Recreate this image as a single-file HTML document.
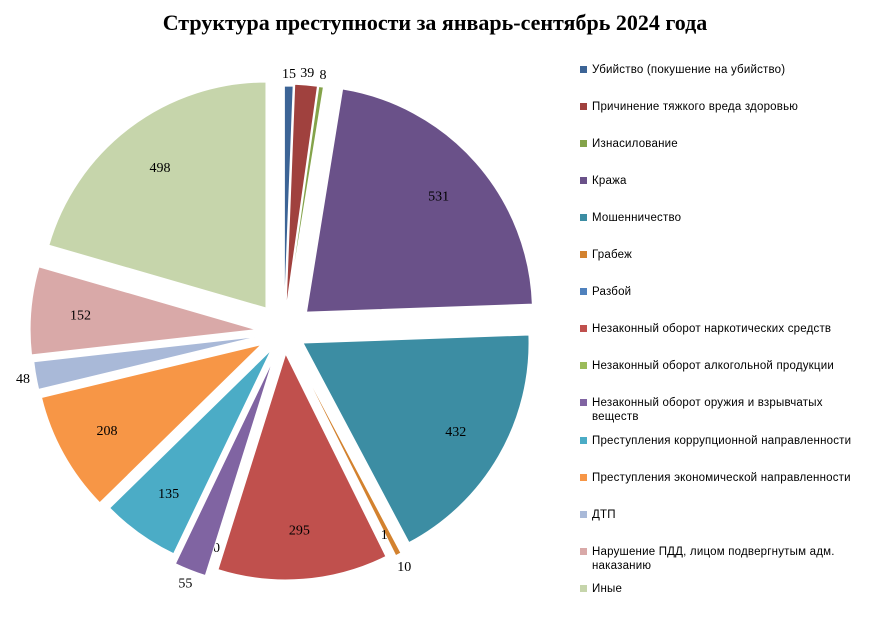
<!DOCTYPE html>
<html><head><meta charset="utf-8">
<style>
body{margin:0;background:#fff;width:870px;height:619px;overflow:hidden;font-family:"Liberation Sans",sans-serif;}
#title{position:absolute;left:0;width:870px;top:10px;text-align:center;font-family:"Liberation Serif",serif;font-weight:bold;font-size:22px;}
.leg{position:absolute;left:580px;font-size:11.5px;line-height:14px;width:272px;letter-spacing:0.2px;}
.leg i{position:absolute;left:0;top:3px;width:7px;height:7px;}
.leg span{display:block;margin-left:12px;}
</style></head><body>
<div id="title">Структура преступности за январь-сентябрь 2024 года</div>
<svg id="pie" width="570" height="619" style="position:absolute;left:0;top:0"></svg>
<div id="legend"></div>
<script>
const categories=["Убийство (покушение на убийство)","Причинение тяжкого вреда здоровью","Изнасилование","Кража","Мошенничество","Грабеж","Разбой","Незаконный оборот наркотических средств","Незаконный оборот алкогольной продукции","Незаконный оборот оружия и взрывчатых веществ","Преступления коррупционной направленности","Преступления экономической направленности","ДТП","Нарушение ПДД, лицом подвергнутым адм. наказанию","Иные"];
const values=[15,39,8,531,432,10,1,295,0,55,135,208,48,152,498];
const colors=["#3C6496","#A0413E","#84A34A","#6A5189","#3C8DA3","#D3822F","#4F81BD","#C0504D","#9BBB59","#8064A2","#4BACC6","#F79646","#A9B9D8","#D9A9A8","#C6D5AB"];
const offsets=[20,22,22,30,22,24,22,22,22,30,22,26,26,28,30];
const legendY=[69,106,143,180,217,254,291,328,365,402,440,477,514,551,588];
const cx=284,cy=332,R=226;
const svg=document.getElementById('pie');
const NS="http://www.w3.org/2000/svg";
const total=values.reduce((a,b)=>a+b,0);
let acc=0;
values.forEach((v,i)=>{
  const a0=acc/total*2*Math.PI; acc+=v; const a1=acc/total*2*Math.PI;
  const off=offsets[i];
  const am=(a0+a1)/2, dx=Math.sin(am)*off, dy=-Math.cos(am)*off;
  const x=cx+dx,y=cy+dy;
  if(v>0){
    const p=document.createElementNS(NS,'path');
    const large=(a1-a0)>Math.PI?1:0;
    const d=`M${x},${y} L${x+R*Math.sin(a0)},${y-R*Math.cos(a0)} A${R},${R} 0 ${large} 1 ${x+R*Math.sin(a1)},${y-R*Math.cos(a1)} Z`;
    p.setAttribute('d',d);p.setAttribute('fill',colors[i]);p.setAttribute('stroke','#fff');p.setAttribute('stroke-width','1');
    
    
    svg.appendChild(p);
  }
  const lr=v>100?R*0.78:(v<5?R*0.9:R+13);
  const t=document.createElementNS(NS,'text');
  t.setAttribute('x',x+lr*Math.sin(am));t.setAttribute('y',y-lr*Math.cos(am)+5);
  t.setAttribute('text-anchor','middle');t.setAttribute('font-family','Liberation Serif, serif');t.setAttribute('font-size','14');
  t.textContent=v;
  
  
  svg.appendChild(t);
});
const lg=document.getElementById('legend');
categories.forEach((c,i)=>{
  const d=document.createElement('div');d.className='leg';d.style.top=legendY[i]-6+'px';
  d.innerHTML=`<i style="background:${colors[i]}"></i><span>${c}</span>`;
  
  
  lg.appendChild(d);
});
</script>
</body></html>
